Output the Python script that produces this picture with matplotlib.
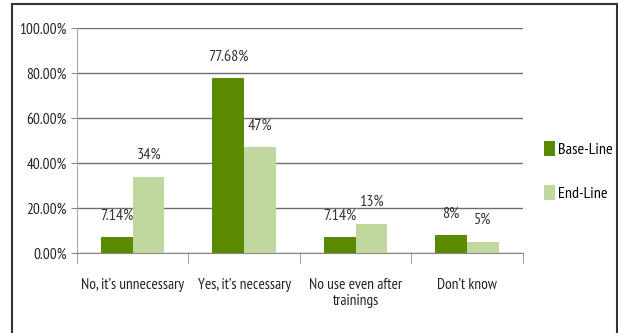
import matplotlib
matplotlib.use("Agg")
import matplotlib.pyplot as plt
import numpy as np
from matplotlib.patches import Rectangle

plt.rcParams['font.family'] = ['PT Sans Narrow', 'Archivo Narrow',
                               'Roboto Condensed', 'DejaVu Sans']

categories = ["No, it\u2019s unnecessary", "Yes, it\u2019s necessary",
              "No use even after\ntrainings", "Don\u2019t know"]
base_line = [7.14, 77.68, 7.14, 8]
end_line = [34, 47, 13, 5]
base_labels = ["7.14%", "77.68%", "7.14%", "8%"]
end_labels = ["34%", "47%", "13%", "5%"]

base_color = "#5a8a00"
end_color = "#c0d89e"
fs = 11

fig = plt.figure(figsize=(6.18, 3.33), dpi=100)
ax = fig.add_axes([0.1246, 0.2402, 0.7214, 0.6757])

x = np.arange(len(categories))
w = 0.285
ax.bar(x - w / 2, base_line, w, color=base_color, label="Base-Line", zorder=3)
ax.bar(x + w / 2, end_line, w, color=end_color, label="End-Line", zorder=3)

# data labels sit a bit above each bar
for i in range(len(categories)):
    ax.text(x[i] - w / 2, base_line[i] + 6.5, base_labels[i], ha="center",
            va="bottom", fontsize=fs + 0.5, color="#333333")
    ax.text(x[i] + w / 2, end_line[i] + 6.5, end_labels[i], ha="center",
            va="bottom", fontsize=fs + 0.5, color="#333333")

ax.set_xlim(-0.5, len(categories) - 0.5)
ax.set_ylim(0, 100)
ax.set_yticks(np.arange(0, 101, 20))
ax.set_yticklabels(["%.2f%%" % v for v in np.arange(0, 101, 20)])
ax.set_xticks(x)
ax.set_xticklabels(categories)
ax.set_xticks(np.arange(-0.5, len(categories), 1), minor=True)
ax.tick_params(axis="x", which="major", length=0, pad=18, labelsize=fs,
               labelcolor="#222222")
ax.tick_params(axis="x", which="minor", length=7, color="#888888")
ax.tick_params(axis="y", length=4, color="#888888", labelsize=fs,
               labelcolor="#222222")
ax.grid(axis="y", color="#6e6e6e", lw=1, zorder=0)
for s in ["top", "right"]:
    ax.spines[s].set_visible(False)
ax.spines["left"].set_color("#aaaaaa")
ax.spines["bottom"].set_color("#888888")

ax.legend(loc="center left", bbox_to_anchor=(1.015, 0.365), frameon=False,
          fontsize=fs + 0.5, handlelength=0.7, handleheight=1.1,
          handletextpad=0.2, labelspacing=1.75)

# outer frame of the chart
frame = Rectangle((12 / 618, -0.05), (617 - 12) / 618, 1.05 - 4 / 333,
                  transform=fig.transFigure, fill=False, ec="#333333", lw=1.5,
                  clip_on=False)
fig.patches.append(frame)

fig.savefig("out.png", dpi=100)
